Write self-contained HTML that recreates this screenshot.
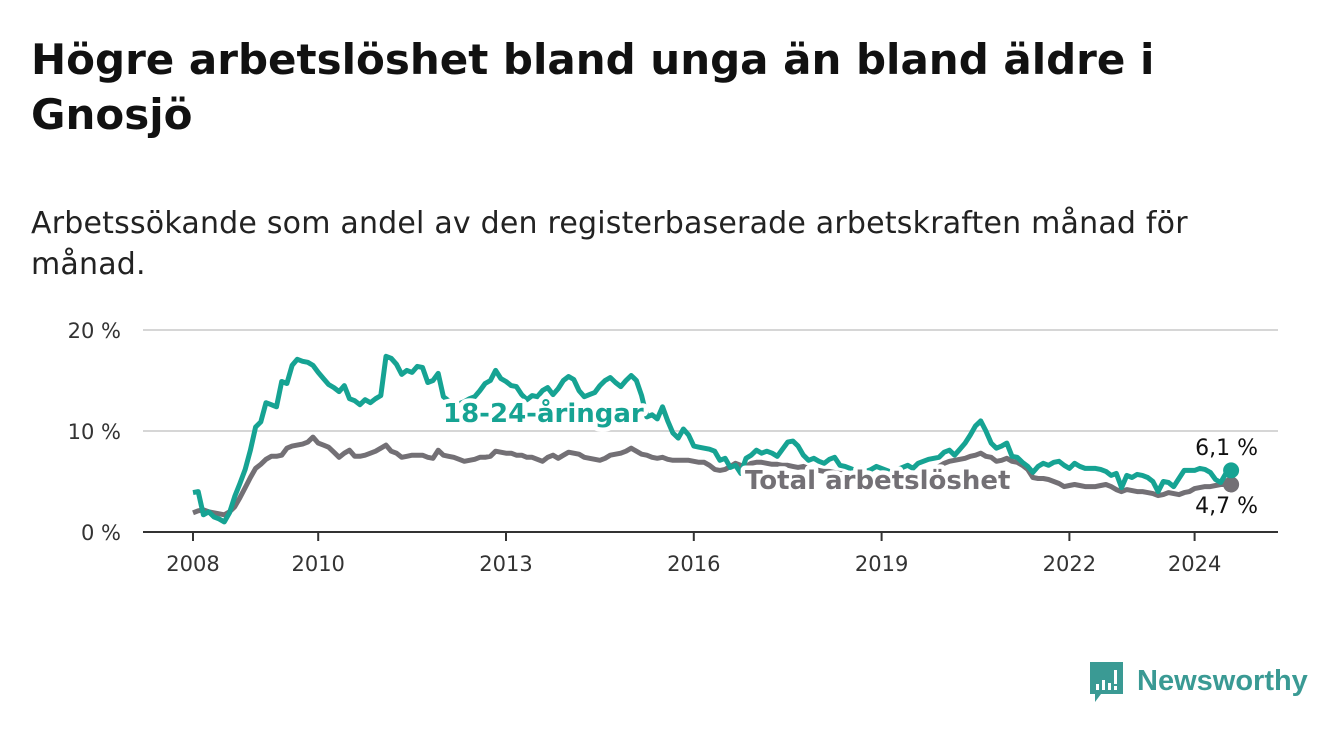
<!DOCTYPE html>
<html><head><meta charset="utf-8"><style>
body{margin:0;background:#fff;width:1340px;height:734px;overflow:hidden;font-family:"DejaVu Sans",sans-serif;}
h1{position:absolute;left:31px;top:32px;margin:0;font-family:"DejaVu Sans",sans-serif;font-size:42px;line-height:55px;font-weight:bold;color:#111;white-space:nowrap;}
.sub{position:absolute;left:31px;top:203px;margin:0;font-family:"DejaVu Sans",sans-serif;font-size:30px;line-height:41px;color:#222;letter-spacing:0.2px;white-space:nowrap;}
svg{position:absolute;left:0;top:0;}
</style></head><body>
<h1>Högre arbetslöshet bland unga än bland äldre i<br>Gnosjö</h1>
<p class="sub">Arbetssökande som andel av den registerbaserade arbetskraften månad för<br>månad.</p>
<svg id="chart" width="1340" height="734"></svg>
<script>
const yearTicks=[2008,2010,2013,2016,2019,2022,2024];
const yTicks=[0,10,20];
const yTickLabels=["0 %","10 %","20 %"];
const startYear=2008;
const youth=[3.9,4.0,1.7,2.0,1.5,1.3,1.0,1.9,3.5,4.8,6.2,8.1,10.4,10.9,12.8,12.6,12.4,14.9,14.7,16.5,17.1,16.9,16.8,16.5,15.8,15.2,14.6,14.3,13.9,14.5,13.2,13.0,12.6,13.1,12.8,13.2,13.5,17.4,17.2,16.6,15.6,16.0,15.8,16.4,16.3,14.8,15.0,15.7,13.4,13.0,12.8,12.7,12.9,13.2,13.4,14.0,14.7,15.0,16.0,15.2,14.9,14.5,14.4,13.6,13.1,13.5,13.4,14.0,14.3,13.6,14.2,15.0,15.4,15.1,14.0,13.4,13.6,13.8,14.5,15.0,15.3,14.8,14.4,15.0,15.5,15.0,13.5,11.4,11.6,11.2,12.4,11.0,9.8,9.3,10.2,9.6,8.5,8.4,8.3,8.2,8.0,7.1,7.3,6.4,6.6,5.8,7.3,7.6,8.1,7.8,8.0,7.8,7.5,8.2,8.9,9.0,8.5,7.6,7.1,7.3,7.0,6.8,7.2,7.4,6.6,6.5,6.3,6.1,6.4,6.0,6.2,6.5,6.3,6.1,5.9,6.2,6.4,6.6,6.3,6.8,7.0,7.2,7.3,7.4,7.9,8.1,7.6,8.2,8.8,9.6,10.5,11.0,10.0,8.8,8.3,8.5,8.8,7.5,7.4,6.9,6.5,5.9,6.5,6.8,6.6,6.9,7.0,6.6,6.3,6.8,6.5,6.3,6.3,6.3,6.2,6.0,5.6,5.8,4.4,5.6,5.4,5.7,5.6,5.4,5.0,4.0,5.0,4.9,4.5,5.3,6.1,6.1,6.1,6.3,6.2,5.9,5.2,4.9,5.8,6.1];
const total=[1.9,2.1,2.2,2.0,1.9,1.8,1.7,2.0,2.5,3.4,4.4,5.4,6.3,6.7,7.2,7.5,7.5,7.6,8.3,8.5,8.6,8.7,8.9,9.4,8.8,8.6,8.4,7.9,7.4,7.8,8.1,7.5,7.5,7.6,7.8,8.0,8.3,8.6,8.0,7.8,7.4,7.5,7.6,7.6,7.6,7.4,7.3,8.1,7.6,7.5,7.4,7.2,7.0,7.1,7.2,7.4,7.4,7.5,8.0,7.9,7.8,7.8,7.6,7.6,7.4,7.4,7.2,7.0,7.4,7.6,7.3,7.6,7.9,7.8,7.7,7.4,7.3,7.2,7.1,7.3,7.6,7.7,7.8,8.0,8.3,8.0,7.7,7.6,7.4,7.3,7.4,7.2,7.1,7.1,7.1,7.1,7.0,6.9,6.9,6.6,6.2,6.1,6.2,6.5,6.8,6.6,6.5,6.8,6.9,6.9,6.8,6.7,6.7,6.6,6.6,6.5,6.4,6.5,6.3,6.2,6.1,6.0,6.0,5.9,5.8,5.8,5.7,5.6,5.6,5.5,5.4,5.5,5.4,5.3,5.3,5.2,5.3,5.4,5.5,5.6,5.8,6.0,6.2,6.5,6.8,7.0,7.1,7.2,7.3,7.5,7.6,7.8,7.5,7.4,7.0,7.1,7.3,7.0,6.9,6.6,6.2,5.4,5.3,5.3,5.2,5.0,4.8,4.5,4.6,4.7,4.6,4.5,4.5,4.5,4.6,4.7,4.5,4.2,4.0,4.2,4.1,4.0,4.0,3.9,3.8,3.6,3.7,3.9,3.8,3.7,3.9,4.0,4.3,4.4,4.5,4.5,4.6,4.7,4.7,4.7];

const NS="http://www.w3.org/2000/svg";
const svg=document.getElementById('chart');
const X0=193,PX_YEAR=62.6,Y0=532,PX_PCT=10.1;
const FONT='DejaVu Sans, sans-serif';
const xYear=y=>X0+(y-startYear)*PX_YEAR;
const xMonth=m=>X0+m*PX_YEAR/12;
const yVal=v=>Y0-v*PX_PCT;
function mk(tag,attrs){const e=document.createElementNS(NS,tag);for(const k in attrs)e.setAttribute(k,attrs[k]);svg.appendChild(e);return e;}

yTicks.forEach((t,i)=>{
  if(t>0){const g=mk('line',{x1:143,x2:1278,y1:yVal(t),y2:yVal(t),stroke:'#d6d6d6','stroke-width':2});
  
  }
  const l=mk('text',{x:121,y:yVal(t)+8,'text-anchor':'end','font-size':21,fill:'#333','font-family':FONT});
  l.textContent=yTickLabels[i];
  
  
});
const ax=mk('line',{x1:143,x2:1278,y1:Y0,y2:Y0,stroke:'#333','stroke-width':2});


yearTicks.forEach(y=>{
  const t=mk('line',{x1:xYear(y),x2:xYear(y),y1:Y0,y2:Y0+9,stroke:'#333','stroke-width':2});
  
  
  const l=mk('text',{x:xYear(y),y:571,'text-anchor':'middle','font-size':21,fill:'#333','font-family':FONT});
  l.textContent=y;
  
  
});
function line(arr,color,name){
  const d=arr.map((v,i)=>(i?'L':'M')+xMonth(i).toFixed(1)+','+yVal(v).toFixed(1)).join('');
  const p=mk('path',{d:d,fill:'none',stroke:color,'stroke-width':5,'stroke-linejoin':'round'});
  
  
  const n=arr.length-1;
  const c=mk('circle',{cx:xMonth(n),cy:yVal(arr[n]),r:8,fill:color});
  
  
}
line(total,'#737075','total-line');
line(youth,'#16a393','youth-line');
function label(txt,x,y,color,size,bold,name,anchor){
  const t=mk('text',{x:x,y:y,fill:color,'font-size':size,'font-weight':bold?'bold':'normal','font-family':FONT,stroke:'#fff','stroke-width':9,'paint-order':'stroke','stroke-linejoin':'round','text-anchor':anchor||'start'});
  t.textContent=txt;
  
  
}
label('18-24-åringar',443,422,'#16a393',26,true,'youth-series-label');
label('Total arbetslöshet',745,489,'#737075',26,true,'total-series-label');
label('6,1 %',1258,455,'#111',22,false,'youth-end-value','end');
label('4,7 %',1258,513,'#111',22,false,'total-end-value','end');
</script>
<svg width="1340" height="734" style="pointer-events:none">
  <path d="M1090,662 h33 v32 h-22 l-6,8 v-8 h-5 z" fill="#3a9a94"/>
  <rect x="1096" y="684" width="3" height="6" fill="#fff"/>
  <rect x="1102" y="680" width="3" height="10" fill="#fff"/>
  <rect x="1108" y="683" width="3" height="7" fill="#fff"/>
  <rect x="1114" y="670" width="3" height="14" fill="#fff"/>
  <rect x="1114" y="686" width="3" height="4" fill="#fff"/>
  <text x="1137" y="690" font-size="29" font-weight="bold" fill="#3a9a94" font-family="Liberation Sans, sans-serif">Newsworthy</text>
</svg>
</body></html>
